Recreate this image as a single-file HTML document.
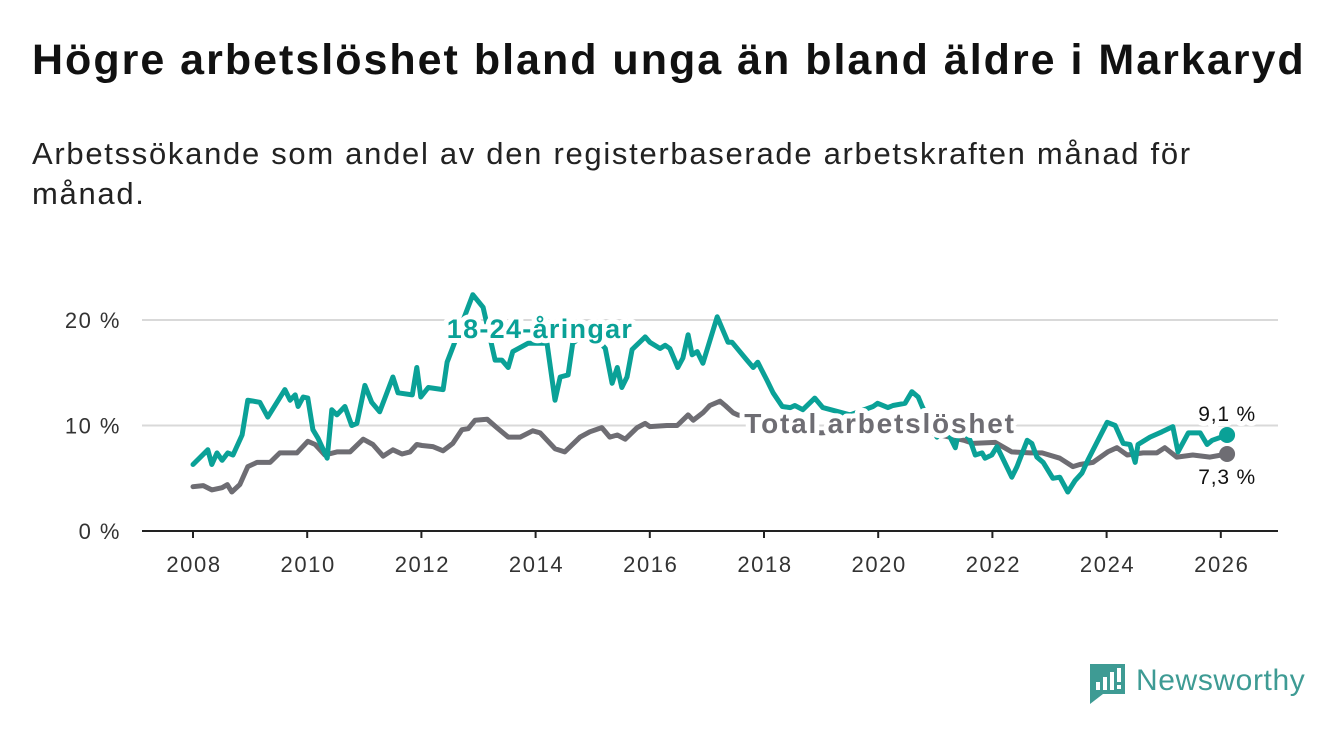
<!DOCTYPE html>
<html><head><meta charset="utf-8"><style>
body{margin:0;width:1340px;height:734px;background:#fff;font-family:"Liberation Sans",sans-serif;overflow:hidden}
h1{position:absolute;left:32px;top:34px;margin:0;font-size:43px;line-height:52px;font-weight:bold;color:#111;letter-spacing:2.0px;white-space:nowrap}
p{position:absolute;left:32px;top:134px;margin:0;font-size:31px;line-height:40px;color:#222;width:1230px;letter-spacing:1.7px}
svg{position:absolute;left:0;top:0}
.halo{paint-order:stroke;stroke:#fff;stroke-width:10px;stroke-linejoin:round}
</style></head><body>
<h1>Högre arbetslöshet bland unga än bland äldre i Markaryd</h1>
<p>Arbetssökande som andel av den registerbaserade arbetskraften månad för månad.</p>
<svg id="chart" width="1340" height="734"></svg>
<script>
const youthT=[0,0.26,0.33,0.42,0.51,0.61,0.70,0.86,0.96,1.17,1.31,1.61,1.70,1.79,1.84,1.93,2.01,2.10,2.19,2.35,2.43,2.52,2.66,2.78,2.87,3.01,3.13,3.27,3.50,3.59,3.84,3.92,3.99,4.12,4.38,4.45,4.55,4.90,5.08,5.29,5.41,5.52,5.60,5.87,6.20,6.34,6.43,6.57,6.65,6.95,7.22,7.34,7.43,7.51,7.60,7.69,7.92,8.00,8.18,8.27,8.35,8.49,8.58,8.67,8.74,8.83,8.93,9.18,9.37,9.44,9.70,9.81,9.89,10.05,10.16,10.32,10.46,10.54,10.68,10.89,11.03,11.51,11.91,11.99,12.17,12.26,12.47,12.59,12.70,12.77,13.03,13.17,13.35,13.43,13.61,13.70,13.82,13.87,13.99,14.08,14.17,14.34,14.43,14.61,14.69,14.78,14.89,15.06,15.18,15.32,15.45,15.57,15.67,15.85,16.01,16.15,16.29,16.41,16.50,16.55,16.76,16.97,17.16,17.25,17.43,17.64,17.76,17.85,18.11];
const youthV=[6.3,7.7,6.3,7.4,6.7,7.4,7.2,9.1,12.4,12.2,10.8,13.4,12.4,12.9,11.8,12.7,12.6,9.6,8.8,6.9,11.5,11.0,11.8,10.0,10.2,13.8,12.2,11.3,14.6,13.1,12.9,15.5,12.7,13.6,13.4,16.0,17.4,22.4,21.2,16.2,16.2,15.5,17.0,17.8,17.8,12.4,14.6,14.8,17.8,19.0,17.3,14.0,15.5,13.6,14.6,17.2,18.4,17.9,17.3,17.6,17.3,15.5,16.4,18.6,16.7,17.0,15.9,20.3,17.9,17.9,16.2,15.5,16.0,14.3,13.1,11.8,11.7,11.9,11.5,12.6,11.7,11.0,11.8,12.1,11.7,11.9,12.1,13.2,12.7,11.8,8.9,9.9,7.9,9.9,8.6,7.2,7.4,6.9,7.2,8.0,7.0,5.1,6.1,8.6,8.3,7.0,6.5,5.0,5.1,3.7,4.8,5.5,6.7,8.6,10.3,10.0,8.3,8.2,6.5,8.2,8.9,9.4,9.9,7.5,9.3,9.3,8.2,8.6,9.1];
const totalT=[0,0.18,0.33,0.51,0.60,0.68,0.82,0.96,1.12,1.35,1.52,1.82,2.01,2.14,2.31,2.52,2.75,2.98,3.15,3.33,3.50,3.66,3.80,3.92,4.01,4.20,4.38,4.55,4.71,4.82,4.94,5.15,5.32,5.52,5.73,5.95,6.08,6.34,6.51,6.78,6.95,7.16,7.30,7.43,7.57,7.78,7.92,8.00,8.30,8.48,8.67,8.76,8.93,9.05,9.23,9.32,9.46,9.54,10.0,10.5,11.0,11.5,12.0,12.5,13.0,13.5,13.66,14.05,14.34,14.66,14.87,15.18,15.41,15.53,15.76,16.02,16.18,16.36,16.64,16.88,17.02,17.23,17.51,17.81,18.11];
const totalV=[4.2,4.3,3.9,4.1,4.4,3.7,4.4,6.1,6.5,6.5,7.4,7.4,8.5,8.2,7.2,7.5,7.5,8.7,8.2,7.1,7.7,7.3,7.5,8.2,8.1,8.0,7.6,8.3,9.6,9.7,10.5,10.6,9.8,8.9,8.9,9.5,9.3,7.8,7.5,8.9,9.4,9.8,8.9,9.1,8.7,9.8,10.2,9.9,10.0,10.0,11.0,10.5,11.2,11.9,12.3,11.9,11.2,11.0,10.5,9.6,9.3,9.5,9.9,9.8,9.2,8.6,8.3,8.4,7.5,7.4,7.4,6.9,6.1,6.3,6.5,7.5,7.9,7.2,7.4,7.4,7.9,7.0,7.2,7.0,7.3];
const yTicks=[0,10,20];
const yTickLabels=["0 %","10 %","20 %"];
const xTicks=[2008,2010,2012,2014,2016,2018,2020,2022,2024,2026];
const endLabels=["9,1 %","7,3 %"];

const X=t=>193+t*57.1;
const XY=y=>X(y-2008);
const Y=v=>531-v*10.55;
const svg=document.getElementById('chart');
const NS='http://www.w3.org/2000/svg';
function mk(tag,attrs,text){const e=document.createElementNS(NS,tag);for(const k in attrs)e.setAttribute(k,attrs[k]);if(text!==undefined)e.textContent=text;svg.appendChild(e);return e;}

yTicks.forEach((v,i)=>{
  if(v>0){const g=mk('line',{x1:142,x2:1278,y1:Y(v),y2:Y(v),stroke:'#d9d9d9','stroke-width':2});
  
  }
  const t=mk('text',{x:121,y:Y(v)+8,'text-anchor':'end','font-size':22,'letter-spacing':1.5,fill:'#333'},yTickLabels[i]);
  
  
});
const ax=mk('line',{x1:142,x2:1278,y1:531,y2:531,stroke:'#222','stroke-width':2});


xTicks.forEach(yr=>{
  const tk=mk('line',{x1:XY(yr),x2:XY(yr),y1:531,y2:538,stroke:'#222','stroke-width':2});
  
  
  const t=mk('text',{x:XY(yr)+1,y:572,'text-anchor':'middle','font-size':22,'letter-spacing':1.6,fill:'#333'},String(yr));
  
  
});
function line(T,V,color,name){
  const d=T.map((t,i)=>(i?'L':'M')+X(t).toFixed(1)+','+Y(V[i]).toFixed(1)).join('');
  const p=mk('path',{d:d,fill:'none',stroke:color,'stroke-width':5,'stroke-linejoin':'round','stroke-linecap':'round'});
  
  
  const n=T.length-1;
  const c=mk('circle',{cx:X(T[n]),cy:Y(V[n]),r:8,fill:color});
  
  
}
line(totalT,totalV,'#6e6d73','total-line');
line(youthT,youthV,'#0aa197','youth-line');
const l1=mk('text',{x:540,y:338,'text-anchor':'middle','font-size':27,'letter-spacing':1.3,'font-weight':'bold',fill:'#0aa197',class:'halo'},'18-24-åringar');


const l2=mk('text',{x:880,y:433,'text-anchor':'middle','font-size':28,'letter-spacing':1.8,'font-weight':'bold',fill:'#6e6d73',class:'halo'},'Total arbetslöshet');


const n1=youthT.length-1,n2=totalT.length-1;
const e1=mk('text',{x:X(youthT[n1]),y:Y(youthV[n1])-14,'text-anchor':'middle','font-size':21,'letter-spacing':0.8,fill:'#111',class:'halo'},endLabels[0]);


const e2=mk('text',{x:X(totalT[n2]),y:Y(totalV[n2])+30,'text-anchor':'middle','font-size':21,'letter-spacing':0.8,fill:'#111',class:'halo'},endLabels[1]);


</script>
<svg width="1340" height="734">
<path d="M1090 664h35v30h-22l-13 10z" fill="#3e9b94"/>
<rect x="1096" y="682" width="4" height="8" fill="#fff"/><rect x="1103" y="677" width="4" height="13" fill="#fff"/><rect x="1110" y="672" width="4" height="18" fill="#fff"/><rect x="1117" y="668" width="4" height="14" fill="#fff"/><rect x="1117" y="685" width="4" height="4" fill="#fff"/>
<text x="1136" y="690" font-size="30" letter-spacing="0.6" fill="#3e9b94">Newsworthy</text>
</svg>
</body></html>
